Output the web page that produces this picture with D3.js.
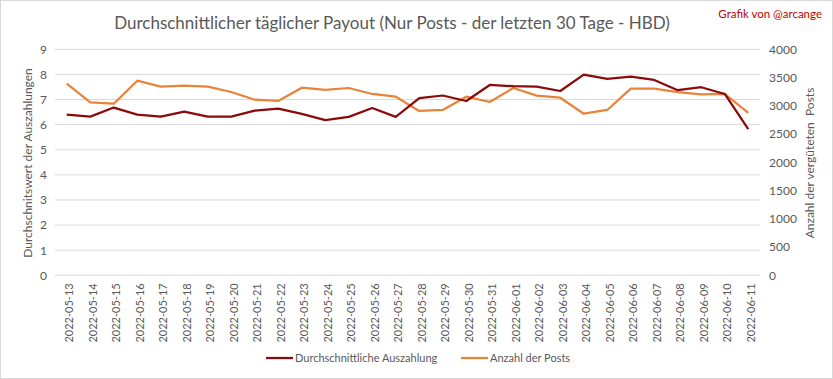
<!DOCTYPE html>
<html><head><meta charset="utf-8">
<script src="https://cdn.jsdelivr.net/npm/d3@7"></script>
<style>
body{margin:0;background:#fff;}
svg{display:block;font-family:Lato, "Open Sans", sans-serif;}
</style></head>
<body><svg id="c" width="833" height="379"></svg>
<script>
const dates = ["2022-05-13","2022-05-14","2022-05-15","2022-05-16","2022-05-17","2022-05-18","2022-05-19","2022-05-20","2022-05-21","2022-05-22","2022-05-23","2022-05-24","2022-05-25","2022-05-26","2022-05-27","2022-05-28","2022-05-29","2022-05-30","2022-05-31","2022-06-01","2022-06-02","2022-06-03","2022-06-04","2022-06-05","2022-06-06","2022-06-07","2022-06-08","2022-06-09","2022-06-10","2022-06-11"];
const avgPayout = [6.40,6.32,6.68,6.40,6.32,6.52,6.32,6.32,6.56,6.64,6.43,6.18,6.31,6.66,6.31,7.06,7.16,6.94,7.58,7.53,7.51,7.34,7.99,7.82,7.91,7.78,7.37,7.49,7.22,5.82];
const postCount = [3391,3062,3037,3444,3338,3356,3338,3244,3108,3085,3321,3280,3315,3209,3161,2908,2926,3161,3067,3315,3179,3143,2860,2926,3303,3303,3244,3203,3209,2873];
const leftTicks = [0,1,2,3,4,5,6,7,8,9];
const rightTicks = [0,500,1000,1500,2000,2500,3000,3500,4000];
const seriesNames = ["Durchschnittliche Auszahlung","Anzahl der Posts"];
const titleText = "Durchschnittlicher täglicher Payout (Nur Posts - der letzten 30 Tage - HBD)";
const creditText = "Grafik von @arcange";
const leftTitle = "Durchschnitswert der Auszahlungen";
const rightTitle = "Anzahl der vergüteten  Posts";

const svg = d3.select("#c");
const L = 55, R = 760, T = 49.3, B = 275.3;
const cDark = "#8b0a0a", cOrange = "#e8833a", grey = "#595959";

svg.append("rect").attr("x",0.5).attr("y",0.5).attr("width",832).attr("height",378)
  .attr("fill","#fff").attr("stroke","#d9d9d9");

const x = d3.scaleBand().domain(dates).range([L,R]);
const cx = d => x(d) + x.bandwidth()/2;
const yL = d3.scaleLinear().domain([0,9]).range([B,T]);
const yR = d3.scaleLinear().domain([0,4000]).range([B,T]);

// gridlines
svg.append("g").selectAll("line").data(leftTicks).join("line")
  .attr("x1",L).attr("x2",R).attr("y1",d=>yL(d)).attr("y2",d=>yL(d))
  .attr("stroke","#d9d9d9").attr("stroke-width",1);

// left axis
const gl = svg.append("g").attr("transform",`translate(${L-8},0)`)
  .call(d3.axisLeft(yL).tickValues(leftTicks).tickSize(0).tickPadding(0));
gl.select(".domain").remove();
gl.selectAll("text").attr("fill",grey).attr("font-size",12).attr("font-family","Lato");

// right axis
const gr = svg.append("g").attr("transform",`translate(${R+9},0)`)
  .call(d3.axisRight(yR).tickValues(rightTicks).tickFormat(d3.format("d")).tickSize(0).tickPadding(0));
gr.select(".domain").remove();
gr.selectAll("text").attr("fill",grey).attr("font-size",12).attr("font-family","Lato");

// x axis
const gx = svg.append("g").attr("transform",`translate(0,${B+8})`)
  .call(d3.axisBottom(x).tickSize(0).tickPadding(0));
gx.select(".domain").remove();
gx.selectAll("text").attr("fill",grey).attr("font-size",11).attr("font-family","Lato")
  .attr("transform","rotate(-90)").attr("text-anchor","end").attr("dy","0.35em").attr("dx","0").attr("y",2.5).attr("x",0);

// lines
svg.append("path").datum(postCount)
  .attr("d", d3.line().x((d,i)=>cx(dates[i])).y(d=>yR(d)))
  .attr("fill","none").attr("stroke",cOrange).attr("stroke-width",2.25).attr("stroke-linejoin","round");
svg.append("path").datum(avgPayout)
  .attr("d", d3.line().x((d,i)=>cx(dates[i])).y(d=>yL(d)))
  .attr("fill","none").attr("stroke",cDark).attr("stroke-width",2.25).attr("stroke-linejoin","round");

// titles
svg.append("text").attr("x",392).attr("y",29).attr("text-anchor","middle")
  .attr("font-size",17).attr("fill",grey).text(titleText);
svg.append("text").attr("x",822).attr("y",18).attr("text-anchor","end")
  .attr("font-size",11.5).attr("fill","#c00000").text(creditText);
svg.append("text").attr("transform","translate(32,163) rotate(-90)").attr("text-anchor","middle")
  .attr("font-size",12).attr("fill",grey).text(leftTitle);
svg.append("text").attr("transform","translate(814,163) rotate(-90)").attr("text-anchor","middle")
  .attr("font-size",12).attr("fill",grey).attr("style","white-space:pre").text(rightTitle);

// legend
const legX = [266, 461];
const lg = svg.append("g");
[cDark,cOrange].forEach((c,i)=>{
  lg.append("line").attr("x1",legX[i]).attr("x2",legX[i]+27).attr("y1",358).attr("y2",358)
    .attr("stroke",c).attr("stroke-width",2.25);
  lg.append("text").attr("x",legX[i]+29).attr("y",362).attr("font-size",11)
    .attr("fill",grey).text(seriesNames[i]);
});
</script></body></html>
